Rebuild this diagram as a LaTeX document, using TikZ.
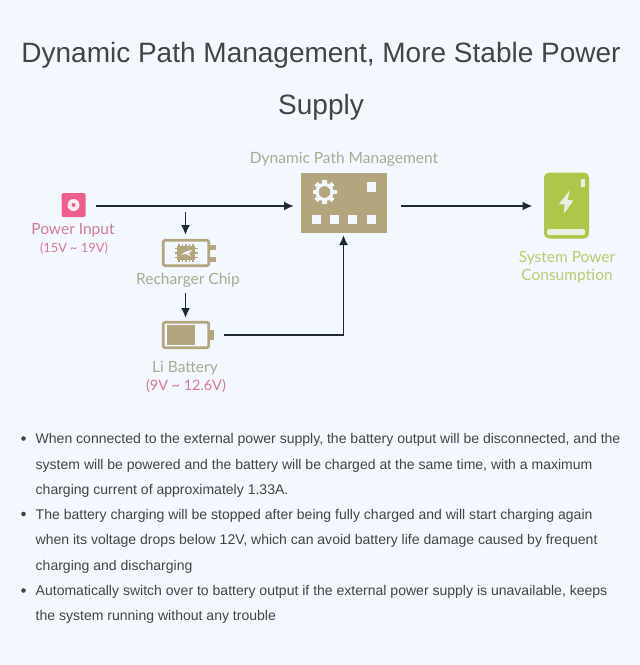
\documentclass[tikz,border=0pt]{standalone}
\usepackage{fontspec}
\setmainfont{Liberation Sans}
\newfontfamily\lblfont{Lato}
\usetikzlibrary{arrows.meta,calc}
\definecolor{bgc}{HTML}{F2F8FD}
\definecolor{txt}{HTML}{444444}
\definecolor{khaki}{HTML}{B3A67E}
\definecolor{khakit}{HTML}{ACA993}
\definecolor{rosec}{HTML}{EE5E8C}
\definecolor{roset}{HTML}{D5799A}
\definecolor{greenc}{HTML}{AEC649}
\definecolor{greent}{HTML}{BCCB6C}
\definecolor{lnc}{HTML}{1F2A2E}
\tikzset{
  x=1pt,y=-1pt,
  title/.style={font=\fontsize{28}{28}\selectfont,text=txt,inner sep=0pt,anchor=base},
  body/.style={font=\fontsize{14.03}{14}\selectfont,text=txt,inner sep=0pt,anchor=base west},
  lbl/.style={font=\lblfont\fontsize{15.5}{16}\selectfont,inner sep=0pt,anchor=base},
  flow/.style={draw=lnc,line width=1.8pt,-{Latex[length=10pt,width=9pt]}},
  bul/.style={circle,fill=txt,inner sep=0pt,minimum size=4.6pt},
  cell/.style={fill=bgc,draw=none},
}
\begin{document}
\begin{tikzpicture}
\useasboundingbox (0,0) rectangle (640,665);
\fill[bgc] (0,0) rectangle (640,665);
\node[title] (t1) at (321,62) {Dynamic Path Management, More Stable Power};
\node[title] (t2) at (321,114) {Supply};
% diagram labels
\node[lbl,text=khakit] (dpm) at (344,163) {Dynamic Path Management};
\node[lbl,text=roset] (pi) at (73,234) {Power Input};
\node[lbl,text=roset,font=\lblfont\fontsize{12.8}{14}\selectfont] (pv) at (74,252) {(15V \textasciitilde{} 19V)};
\node[lbl,text=khakit] (rc) at (188,284) {Recharger Chip};
\node[lbl,text=khakit] (lb) at (185,372) {Li Battery};
\node[lbl,text=roset,font=\lblfont\fontsize{14.4}{14}\selectfont] (lv) at (186,390) {(9V \textasciitilde{} 12.6V)};
\node[lbl,text=greent] (sp1) at (567,262) {System Power};
\node[lbl,text=greent] (sp2) at (567,280) {Consumption};
% power input icon
\node[fill=rosec,rounded corners=2pt,minimum width=24pt,minimum height=24pt,inner sep=0pt] (pwr) at (73.5,205) {};
\fill[white!90!rosec] (pwr.center) circle (6pt);
\fill[rosec] (pwr.center) circle (2pt);
% recharger chip icon
\node[draw=khaki,line width=2.6pt,rounded corners=1.5pt,minimum width=45.5pt,minimum height=25.5pt,inner sep=0pt] (chip) at (186,253) {};
\fill[khaki] (209.5,245) rectangle (215.7,250);
\fill[khaki] (209.5,257) rectangle (215.7,262);
\fill[khaki] (177,246) rectangle (195,259.5);
\foreach \x in {179,182.5,186,189.5,193}{
  \fill[khaki] (\x-0.6,243.5) rectangle (\x+0.6,262);
}
\foreach \y in {248.5,253,257.5}{
  \fill[khaki] (175,\y-0.6) rectangle (198,\y+0.6);
}
\fill[bgc] (181,254.5) -- (187,251) -- (192,250) -- (189,253.5) -- (190.5,256.5) -- (186.5,254) -- cycle;
% battery icon
\node[draw=khaki,line width=2.6pt,rounded corners=1.5pt,minimum width=45.5pt,minimum height=25.5pt,inner sep=0pt] (bat) at (186,335) {};
\fill[khaki] (167,325) rectangle (195,344.5);
\fill[khaki] (209.5,330) rectangle (213.7,340);
% DPM icon
\node[fill=khaki,minimum width=86pt,minimum height=60pt,inner sep=0pt] (dp) at (344,203) {};
\foreach \x in {316.5,334.5,352.5,371}{
  \fill[cell] (\x-4.5,214.5) rectangle (\x+4.5,223.5);
}
\fill[cell] (366.5,182) rectangle (375.5,192);
\foreach \a in {0,45,...,315}{
  \fill[cell,rotate around={\a:(324.5,192)}] (322.3,180) rectangle (326.7,186);
}
\draw[draw=bgc,line width=3.4pt] (324.5,192) circle (7.4pt);
\fill[khaki] (324.5,192) circle (5.7pt);
% system power icon
\node[fill=greenc,rounded corners=5pt,minimum width=45pt,minimum height=66pt,inner sep=0pt] (sys) at (566.5,205.5) {};
\fill[bgc!85!greenc] (581,179) rectangle (585,186.5);
\fill[bgc!85!greenc,rounded corners=1.5pt] (547,229) rectangle (585,235);
\fill[bgc!85!greenc] (570,190) -- (559,204) -- (564.5,204.5) -- (564,213.5) -- (573.5,200.5) -- (567.5,200) -- cycle;
% connectors
\coordinate (a1) at (96,206);
\coordinate (a2) at (294,206);
\coordinate (b1) at (185.5,211.5);
\coordinate (b2) at (185.5,235);
\coordinate (c1) at (185.5,293);
\coordinate (c2) at (185.5,318);
\coordinate (d1) at (224,335);
\coordinate (d2) at (343.5,335);
\coordinate (d3) at (343.5,235);
\coordinate (e1) at (401,206);
\coordinate (e2) at (532.5,206);
\draw[flow] (a1) -- (a2);
\draw[flow] (b1) -- (b2);
\draw[flow] (c1) -- (c2);
\draw[flow] (d1) -- (d2) -- (d3);
\draw[flow] (e1) -- (e2);
% bullet text
\node[bul] (b-1) at (23.5,438.5) {};
\node[bul] (b-2) at (23.5,514) {};
\node[bul] (b-3) at (23.5,590.5) {};
\node[body] (l1) at (35.5,443) {When connected to the external power supply, the battery output will be disconnected, and the};
\node[body] (l2) at (35.5,469) {system will be powered and the battery will be charged at the same time, with a maximum};
\node[body] (l3) at (35.5,494) {charging current of approximately 1.33A.};
\node[body] (l4) at (35.5,519) {The battery charging will be stopped after being fully charged and will start charging again};
\node[body] (l5) at (35.5,544) {when its voltage drops below 12V, which can avoid battery life damage caused by frequent};
\node[body] (l6) at (35.5,570) {charging and discharging};
\node[body] (l7) at (35.5,595) {Automatically switch over to battery output if the external power supply is unavailable, keeps};
\node[body] (l8) at (35.5,620) {the system running without any trouble};
\end{tikzpicture}
\end{document}
